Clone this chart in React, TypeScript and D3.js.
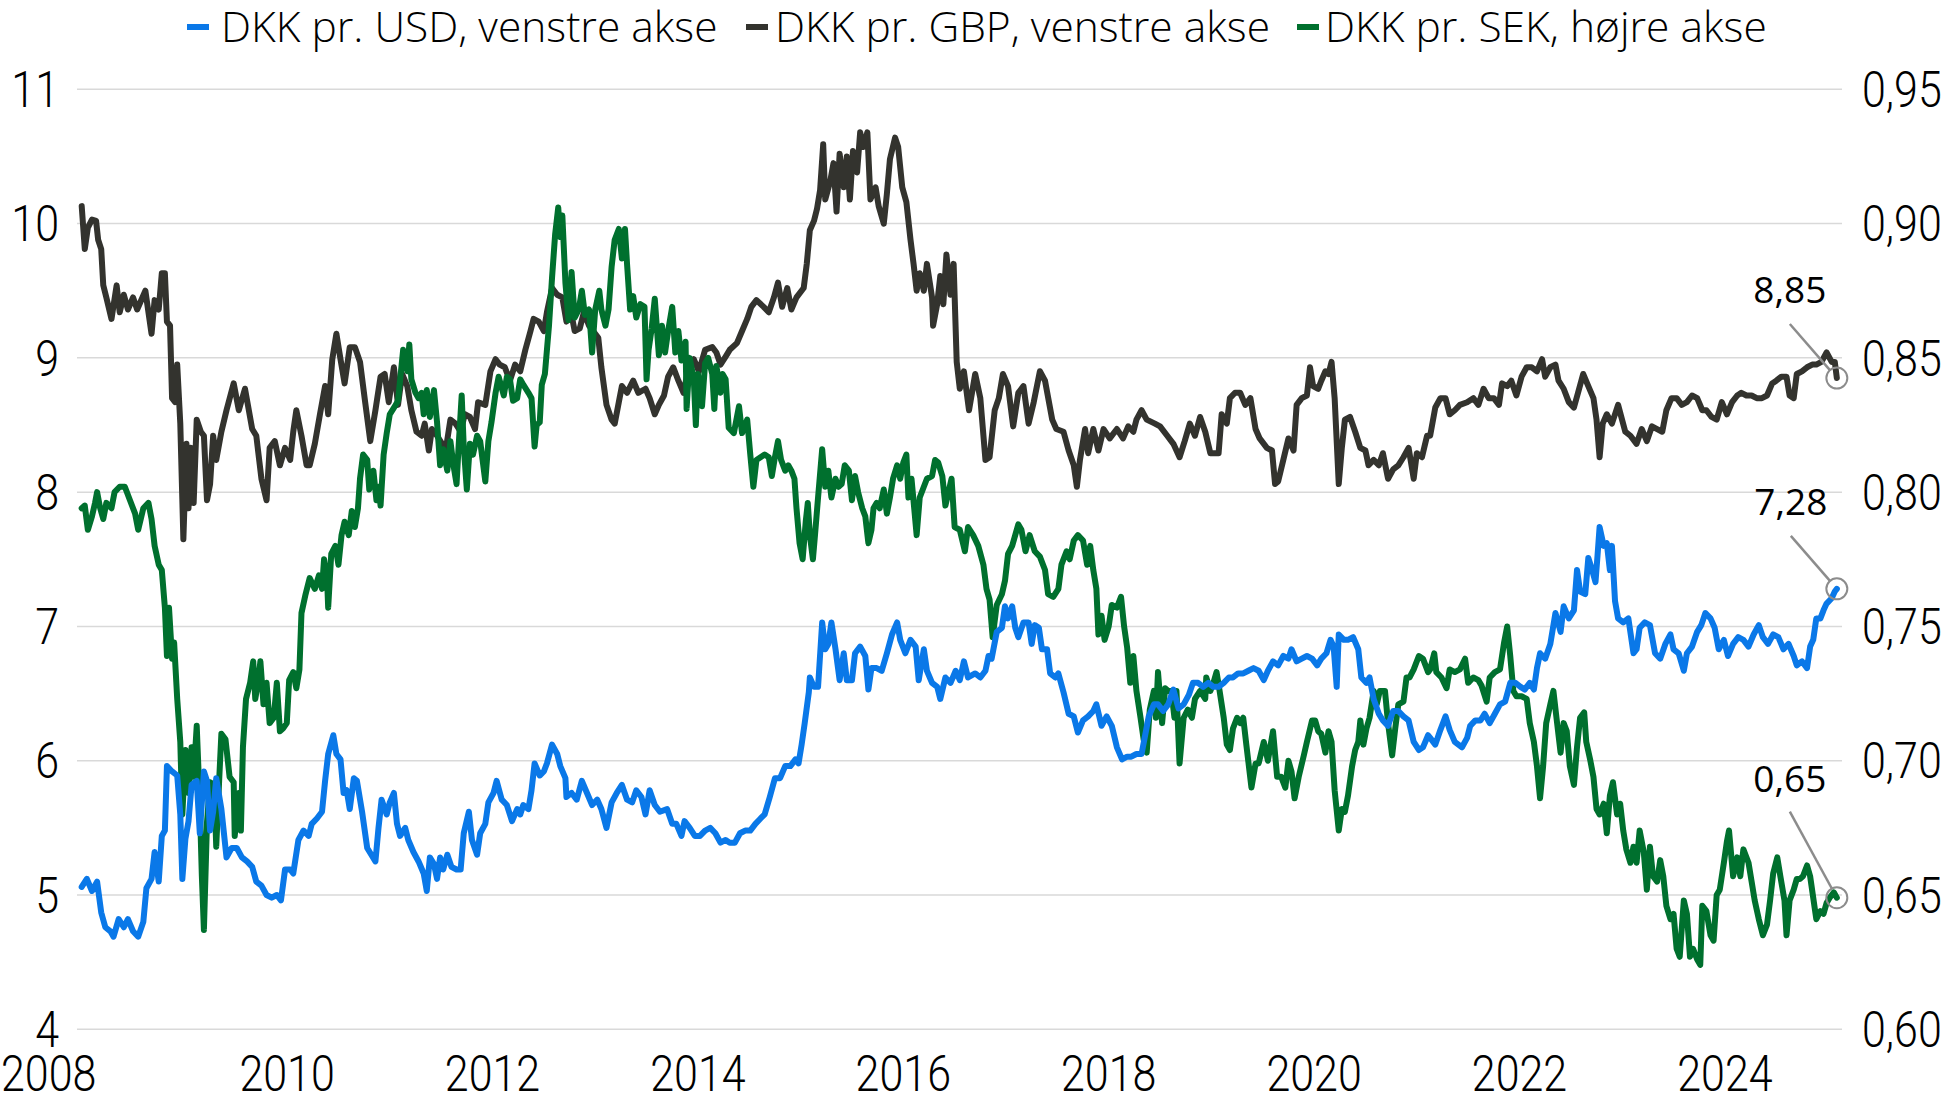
import React from 'react';
import * as d3 from 'd3';

// ---------- DATA ----------
const LEGEND_LABELS = ['DKK pr. USD, venstre akse', 'DKK pr. GBP, venstre akse', 'DKK pr. SEK, højre akse'];
const LEFT_TICKS = [4, 5, 6, 7, 8, 9, 10, 11];
const RIGHT_TICKS = [0.6, 0.65, 0.7, 0.75, 0.8, 0.85, 0.9, 0.95];
const YEAR_TICKS = [2008, 2010, 2012, 2014, 2016, 2018, 2020, 2022, 2024];

// [decimal year, DKK per GBP]
const GBP: [number, number][] = [
  [2008.00,10.13],[2008.03,9.81],[2008.06,9.97],[2008.10,10.03],[2008.14,10.02],[2008.16,9.88],[2008.19,9.81],[2008.21,9.54],[2008.24,9.45],[2008.29,9.29],[2008.34,9.54],[2008.37,9.34],[2008.41,9.47],[2008.45,9.36],[2008.50,9.45],[2008.54,9.36],[2008.62,9.50],[2008.68,9.18],[2008.71,9.43],[2008.75,9.36],[2008.78,9.63],[2008.81,9.63],[2008.83,9.27],[2008.86,9.24],[2008.88,8.70],[2008.91,8.67],[2008.93,8.95],[2008.96,8.51],[2008.99,7.65],[2009.02,8.36],[2009.04,7.88],[2009.06,8.33],[2009.09,7.92],[2009.12,8.54],[2009.16,8.45],[2009.19,8.42],[2009.22,7.94],[2009.25,8.06],[2009.28,8.42],[2009.31,8.24],[2009.36,8.45],[2009.41,8.61],[2009.48,8.81],[2009.53,8.61],[2009.59,8.77],[2009.66,8.47],[2009.70,8.42],[2009.75,8.10],[2009.80,7.94],[2009.83,8.33],[2009.88,8.38],[2009.93,8.20],[2009.98,8.33],
  [2010.03,8.24],[2010.06,8.45],[2010.09,8.61],[2010.14,8.42],[2010.19,8.20],[2010.22,8.20],[2010.27,8.36],[2010.32,8.58],[2010.37,8.79],[2010.40,8.58],[2010.44,8.99],[2010.48,9.18],[2010.52,8.99],[2010.56,8.81],[2010.61,9.08],[2010.66,9.08],[2010.71,8.97],[2010.76,8.67],[2010.81,8.38],[2010.86,8.61],[2010.91,8.86],[2010.95,8.88],[2010.99,8.67],[2011.04,8.93],[2011.08,8.65],[2011.12,8.88],[2011.17,8.79],[2011.21,8.61],[2011.26,8.45],[2011.31,8.42],[2011.34,8.51],[2011.38,8.31],[2011.41,8.47],[2011.46,8.42],[2011.51,8.36],[2011.54,8.29],[2011.59,8.54],[2011.64,8.51],[2011.69,8.45],[2011.73,8.58],[2011.78,8.56],[2011.83,8.47],[2011.86,8.67],[2011.93,8.65],[2011.98,8.90],
  [2012.03,8.99],[2012.07,8.95],[2012.12,8.93],[2012.17,8.83],[2012.22,8.95],[2012.27,8.90],[2012.32,9.06],[2012.37,9.20],[2012.40,9.29],[2012.45,9.27],[2012.50,9.20],[2012.53,9.34],[2012.58,9.52],[2012.63,9.47],[2012.68,9.45],[2012.72,9.27],[2012.76,9.36],[2012.80,9.20],[2012.85,9.22],[2012.89,9.34],[2012.94,9.24],[2012.98,9.20],[2013.03,9.15],[2013.06,8.93],[2013.11,8.65],[2013.16,8.54],[2013.19,8.51],[2013.23,8.67],[2013.26,8.79],[2013.31,8.74],[2013.37,8.83],[2013.42,8.74],[2013.49,8.77],[2013.53,8.70],[2013.58,8.58],[2013.62,8.65],[2013.67,8.72],[2013.71,8.86],[2013.76,8.93],[2013.81,8.83],[2013.86,8.74],[2013.91,8.93],[2013.96,8.99],
  [2014.01,8.90],[2014.07,9.06],[2014.14,9.08],[2014.18,9.04],[2014.22,8.95],[2014.27,9.01],[2014.31,9.06],[2014.38,9.11],[2014.43,9.20],[2014.48,9.29],[2014.52,9.38],[2014.57,9.43],[2014.64,9.38],[2014.69,9.34],[2014.74,9.45],[2014.78,9.56],[2014.82,9.38],[2014.87,9.52],[2014.91,9.36],[2014.96,9.45],[2015.03,9.52],[2015.06,9.70],[2015.09,9.95],[2015.13,10.02],[2015.16,10.11],[2015.19,10.25],[2015.22,10.59],[2015.24,10.18],[2015.29,10.32],[2015.32,10.45],[2015.35,10.09],[2015.38,10.52],[2015.42,10.27],[2015.45,10.50],[2015.48,10.18],[2015.51,10.54],[2015.55,10.38],[2015.58,10.68],[2015.61,10.57],[2015.65,10.68],[2015.68,10.18],[2015.73,10.27],[2015.76,10.13],[2015.81,10.00],[2015.84,10.22],[2015.87,10.48],[2015.92,10.64],[2015.95,10.57],[2015.99,10.27],
  [2016.03,10.16],[2016.07,9.88],[2016.10,9.70],[2016.13,9.50],[2016.16,9.63],[2016.20,9.50],[2016.23,9.70],[2016.28,9.45],[2016.29,9.24],[2016.33,9.40],[2016.36,9.61],[2016.39,9.40],[2016.42,9.77],[2016.46,9.47],[2016.49,9.70],[2016.52,8.97],[2016.55,8.77],[2016.59,8.90],[2016.64,8.61],[2016.70,8.88],[2016.75,8.70],[2016.80,8.24],[2016.84,8.26],[2016.89,8.61],[2016.93,8.70],[2016.97,8.88],[2017.02,8.79],[2017.07,8.49],[2017.12,8.74],[2017.17,8.79],[2017.22,8.51],[2017.27,8.67],[2017.33,8.90],[2017.38,8.83],[2017.45,8.54],[2017.49,8.47],[2017.56,8.45],[2017.61,8.31],[2017.66,8.20],[2017.69,8.04],[2017.72,8.24],[2017.77,8.47],[2017.80,8.29],[2017.85,8.47],[2017.90,8.31],[2017.95,8.47],
  [2018.01,8.40],[2018.08,8.47],[2018.14,8.40],[2018.19,8.49],[2018.24,8.45],[2018.27,8.54],[2018.32,8.61],[2018.37,8.54],[2018.45,8.51],[2018.50,8.49],[2018.57,8.42],[2018.63,8.36],[2018.69,8.26],[2018.74,8.38],[2018.79,8.51],[2018.84,8.42],[2018.89,8.56],[2018.94,8.45],[2018.99,8.29],[2019.07,8.29],[2019.10,8.58],[2019.15,8.51],[2019.18,8.70],[2019.23,8.74],[2019.28,8.74],[2019.33,8.65],[2019.38,8.70],[2019.43,8.47],[2019.47,8.40],[2019.54,8.33],[2019.59,8.31],[2019.62,8.06],[2019.65,8.08],[2019.70,8.24],[2019.75,8.40],[2019.80,8.31],[2019.83,8.65],[2019.88,8.70],[2019.93,8.72],[2019.96,8.93],[2019.99,8.79],
  [2020.04,8.77],[2020.07,8.83],[2020.11,8.90],[2020.14,8.88],[2020.17,8.97],[2020.20,8.70],[2020.24,8.06],[2020.27,8.33],[2020.30,8.54],[2020.35,8.56],[2020.40,8.45],[2020.45,8.33],[2020.50,8.31],[2020.53,8.20],[2020.58,8.24],[2020.63,8.20],[2020.67,8.29],[2020.72,8.10],[2020.77,8.17],[2020.82,8.20],[2020.87,8.26],[2020.92,8.33],[2020.97,8.10],[2021.00,8.29],[2021.05,8.26],[2021.10,8.42],[2021.13,8.42],[2021.18,8.63],[2021.23,8.70],[2021.28,8.70],[2021.32,8.58],[2021.37,8.61],[2021.42,8.65],[2021.49,8.67],[2021.55,8.70],[2021.60,8.65],[2021.65,8.77],[2021.70,8.70],[2021.75,8.70],[2021.80,8.65],[2021.83,8.81],[2021.88,8.79],[2021.92,8.83],[2021.97,8.72],
  [2022.02,8.86],[2022.07,8.93],[2022.12,8.93],[2022.17,8.90],[2022.22,8.99],[2022.25,8.86],[2022.30,8.93],[2022.35,8.95],[2022.38,8.83],[2022.43,8.77],[2022.48,8.67],[2022.53,8.63],[2022.57,8.74],[2022.62,8.88],[2022.67,8.79],[2022.72,8.70],[2022.75,8.54],[2022.78,8.26],[2022.81,8.51],[2022.85,8.58],[2022.90,8.51],[2022.96,8.65],[2023.03,8.45],[2023.08,8.42],[2023.14,8.36],[2023.19,8.47],[2023.24,8.38],[2023.29,8.49],[2023.34,8.47],[2023.39,8.45],[2023.43,8.61],[2023.48,8.70],[2023.53,8.70],[2023.58,8.65],[2023.63,8.67],[2023.68,8.72],[2023.73,8.70],[2023.78,8.61],[2023.82,8.61],[2023.87,8.56],[2023.92,8.54],[2023.97,8.67],
  [2024.02,8.58],[2024.07,8.67],[2024.12,8.72],[2024.16,8.74],[2024.21,8.72],[2024.26,8.72],[2024.31,8.70],[2024.36,8.70],[2024.41,8.72],[2024.46,8.81],[2024.50,8.83],[2024.55,8.86],[2024.60,8.86],[2024.63,8.72],[2024.67,8.70],[2024.70,8.88],[2024.75,8.90],[2024.80,8.93],[2024.85,8.95],[2024.89,8.95],[2024.94,8.97],[2024.99,9.04],[2025.04,8.97],[2025.07,8.97],[2025.09,8.85],
];

// [decimal year, DKK per USD]
const USD: [number, number][] = [
  [2008.00,5.06],[2008.05,5.12],[2008.10,5.03],[2008.15,5.10],[2008.19,4.87],[2008.23,4.76],[2008.28,4.73],[2008.31,4.69],[2008.36,4.82],[2008.41,4.76],[2008.45,4.82],[2008.50,4.73],[2008.55,4.69],[2008.60,4.80],[2008.63,5.05],[2008.68,5.12],[2008.71,5.32],[2008.75,5.10],[2008.78,5.44],[2008.81,5.48],[2008.83,5.96],[2008.88,5.92],[2008.93,5.89],[2008.96,5.60],[2008.98,5.12],[2009.01,5.42],[2009.04,5.55],[2009.07,5.82],[2009.12,5.85],[2009.15,5.46],[2009.19,5.92],[2009.22,5.85],[2009.25,5.48],[2009.28,5.62],[2009.31,5.87],[2009.36,5.64],[2009.41,5.28],[2009.46,5.35],[2009.51,5.35],[2009.56,5.28],[2009.61,5.25],[2009.66,5.21],[2009.70,5.10],[2009.75,5.07],[2009.80,5.00],[2009.85,4.98],[2009.90,5.00],[2009.94,4.96],[2009.98,5.19],
  [2010.03,5.19],[2010.06,5.16],[2010.11,5.41],[2010.16,5.48],[2010.21,5.44],[2010.24,5.53],[2010.29,5.57],[2010.34,5.62],[2010.37,5.85],[2010.40,6.05],[2010.45,6.19],[2010.48,6.05],[2010.52,6.01],[2010.55,5.76],[2010.58,5.78],[2010.61,5.64],[2010.65,5.87],[2010.68,5.85],[2010.73,5.62],[2010.78,5.35],[2010.82,5.30],[2010.86,5.25],[2010.89,5.50],[2010.92,5.71],[2010.97,5.60],[2011.00,5.69],[2011.04,5.76],[2011.07,5.53],[2011.10,5.44],[2011.15,5.50],[2011.18,5.41],[2011.23,5.32],[2011.28,5.25],[2011.33,5.16],[2011.36,5.03],[2011.39,5.28],[2011.43,5.23],[2011.46,5.12],[2011.49,5.28],[2011.52,5.19],[2011.56,5.30],[2011.60,5.21],[2011.65,5.19],[2011.69,5.19],[2011.72,5.46],[2011.77,5.62],[2011.80,5.41],[2011.85,5.30],[2011.88,5.46],[2011.93,5.53],[2011.96,5.69],
  [2012.01,5.76],[2012.04,5.85],[2012.09,5.71],[2012.14,5.67],[2012.19,5.55],[2012.24,5.64],[2012.27,5.60],[2012.30,5.67],[2012.35,5.64],[2012.38,5.78],[2012.41,5.98],[2012.46,5.89],[2012.50,5.92],[2012.53,5.98],[2012.58,6.12],[2012.63,6.05],[2012.66,5.96],[2012.71,5.87],[2012.72,5.73],[2012.77,5.76],[2012.82,5.71],[2012.87,5.85],[2012.92,5.76],[2012.97,5.67],[2013.02,5.71],[2013.06,5.64],[2013.11,5.50],[2013.16,5.69],[2013.21,5.76],[2013.26,5.82],[2013.31,5.71],[2013.36,5.69],[2013.40,5.78],[2013.45,5.73],[2013.49,5.60],[2013.53,5.78],[2013.58,5.67],[2013.63,5.62],[2013.70,5.64],[2013.75,5.53],[2013.79,5.53],[2013.84,5.44],[2013.87,5.55],[2013.92,5.50],[2013.97,5.44],
  [2014.02,5.44],[2014.07,5.48],[2014.12,5.50],[2014.17,5.46],[2014.22,5.39],[2014.27,5.41],[2014.31,5.39],[2014.36,5.39],[2014.41,5.46],[2014.46,5.48],[2014.51,5.48],[2014.56,5.53],[2014.61,5.57],[2014.65,5.60],[2014.70,5.73],[2014.75,5.87],[2014.80,5.87],[2014.85,5.96],[2014.90,5.96],[2014.95,6.01],[2014.98,5.98],[2015.01,6.12],[2015.04,6.28],[2015.08,6.51],[2015.09,6.62],[2015.13,6.55],[2015.17,6.55],[2015.21,7.03],[2015.24,6.83],[2015.27,6.87],[2015.30,7.03],[2015.34,6.83],[2015.38,6.60],[2015.42,6.80],[2015.45,6.60],[2015.50,6.60],[2015.53,6.80],[2015.58,6.85],[2015.63,6.78],[2015.66,6.53],[2015.69,6.69],[2015.74,6.69],[2015.79,6.67],[2015.84,6.80],[2015.89,6.94],[2015.94,7.03],[2015.97,6.90],
  [2016.02,6.80],[2016.07,6.90],[2016.12,6.85],[2016.15,6.60],[2016.20,6.83],[2016.23,6.67],[2016.28,6.58],[2016.33,6.55],[2016.36,6.46],[2016.41,6.62],[2016.46,6.58],[2016.51,6.67],[2016.55,6.60],[2016.59,6.74],[2016.63,6.62],[2016.70,6.65],[2016.75,6.62],[2016.80,6.67],[2016.83,6.78],[2016.86,6.76],[2016.91,6.96],[2016.96,6.99],[2016.99,7.15],[2017.02,7.06],[2017.06,7.15],[2017.09,6.99],[2017.12,6.92],[2017.17,7.03],[2017.22,7.03],[2017.25,6.87],[2017.28,7.01],[2017.32,6.99],[2017.35,6.83],[2017.40,6.83],[2017.43,6.65],[2017.48,6.62],[2017.51,6.65],[2017.56,6.51],[2017.61,6.35],[2017.66,6.33],[2017.70,6.21],[2017.75,6.30],[2017.80,6.33],[2017.85,6.37],[2017.88,6.42],[2017.93,6.26],[2017.98,6.33],
  [2018.03,6.26],[2018.08,6.10],[2018.13,6.01],[2018.18,6.03],[2018.22,6.03],[2018.27,6.05],[2018.32,6.05],[2018.35,6.17],[2018.39,6.33],[2018.44,6.42],[2018.48,6.42],[2018.53,6.37],[2018.58,6.42],[2018.63,6.53],[2018.68,6.39],[2018.73,6.42],[2018.78,6.49],[2018.82,6.58],[2018.87,6.58],[2018.92,6.55],[2018.97,6.58],[2019.02,6.55],[2019.07,6.55],[2019.12,6.58],[2019.17,6.62],[2019.21,6.62],[2019.26,6.65],[2019.31,6.65],[2019.36,6.67],[2019.41,6.69],[2019.46,6.67],[2019.51,6.60],[2019.55,6.67],[2019.60,6.74],[2019.65,6.71],[2019.70,6.78],[2019.75,6.76],[2019.78,6.83],[2019.83,6.74],[2019.88,6.76],[2019.93,6.78],[2019.98,6.76],
  [2020.03,6.71],[2020.07,6.76],[2020.12,6.80],[2020.16,6.90],[2020.19,6.85],[2020.22,6.55],[2020.24,6.94],[2020.29,6.90],[2020.33,6.90],[2020.38,6.92],[2020.43,6.83],[2020.46,6.62],[2020.51,6.58],[2020.54,6.62],[2020.58,6.46],[2020.63,6.35],[2020.67,6.30],[2020.72,6.26],[2020.77,6.37],[2020.82,6.37],[2020.87,6.33],[2020.92,6.30],[2020.97,6.14],[2021.02,6.08],[2021.06,6.10],[2021.11,6.19],[2021.13,6.17],[2021.18,6.12],[2021.23,6.23],[2021.28,6.33],[2021.32,6.23],[2021.37,6.14],[2021.44,6.10],[2021.49,6.17],[2021.52,6.26],[2021.57,6.30],[2021.62,6.30],[2021.66,6.35],[2021.71,6.28],[2021.76,6.35],[2021.81,6.42],[2021.86,6.44],[2021.91,6.58],[2021.96,6.58],
  [2022.01,6.55],[2022.05,6.53],[2022.10,6.58],[2022.14,6.53],[2022.17,6.69],[2022.20,6.80],[2022.25,6.76],[2022.30,6.87],[2022.35,7.10],[2022.40,6.96],[2022.43,7.15],[2022.48,7.06],[2022.53,7.12],[2022.56,7.42],[2022.59,7.26],[2022.64,7.24],[2022.67,7.51],[2022.70,7.44],[2022.74,7.33],[2022.76,7.53],[2022.78,7.74],[2022.82,7.60],[2022.85,7.62],[2022.88,7.42],[2022.90,7.60],[2022.93,7.19],[2022.96,7.06],[2023.01,7.03],[2023.06,7.06],[2023.11,6.80],[2023.14,6.83],[2023.17,6.99],[2023.22,7.03],[2023.27,7.01],[2023.32,6.80],[2023.37,6.76],[2023.42,6.87],[2023.47,6.94],[2023.50,6.83],[2023.55,6.80],[2023.60,6.67],[2023.63,6.80],[2023.68,6.85],[2023.73,6.96],[2023.77,7.01],[2023.81,7.10],[2023.86,7.06],[2023.90,6.99],[2023.94,6.83],[2023.99,6.90],
  [2024.03,6.78],[2024.08,6.87],[2024.13,6.92],[2024.18,6.90],[2024.23,6.85],[2024.28,6.94],[2024.33,7.01],[2024.37,6.92],[2024.42,6.87],[2024.47,6.94],[2024.52,6.92],[2024.57,6.83],[2024.62,6.87],[2024.67,6.78],[2024.70,6.71],[2024.75,6.74],[2024.80,6.69],[2024.83,6.85],[2024.86,6.90],[2024.89,7.06],[2024.93,7.06],[2024.96,7.12],[2024.99,7.17],[2025.04,7.21],[2025.07,7.26],[2025.09,7.28],
];

// [decimal year, DKK per SEK]
const SEK: [number, number][] = [
  [2008.00,0.794],[2008.03,0.795],[2008.06,0.786],[2008.10,0.791],[2008.13,0.796],[2008.15,0.800],[2008.18,0.794],[2008.21,0.790],[2008.24,0.796],[2008.29,0.794],[2008.32,0.800],[2008.37,0.802],[2008.42,0.802],[2008.47,0.797],[2008.52,0.792],[2008.55,0.786],[2008.60,0.794],[2008.65,0.796],[2008.68,0.790],[2008.71,0.780],[2008.75,0.773],[2008.78,0.771],[2008.81,0.757],[2008.83,0.739],[2008.85,0.757],[2008.88,0.738],[2008.90,0.744],[2008.93,0.723],[2008.96,0.707],[2008.98,0.680],[2009.01,0.704],[2009.04,0.688],[2009.07,0.705],[2009.09,0.694],[2009.12,0.713],[2009.15,0.684],[2009.17,0.657],[2009.19,0.637],[2009.22,0.677],[2009.25,0.692],[2009.29,0.691],[2009.31,0.668],[2009.34,0.694],[2009.36,0.710],[2009.40,0.708],[2009.44,0.694],[2009.48,0.692],[2009.49,0.672],[2009.53,0.688],[2009.55,0.674],[2009.57,0.705],[2009.60,0.723],[2009.64,0.729],[2009.67,0.737],[2009.69,0.723],[2009.72,0.730],[2009.74,0.737],[2009.77,0.721],[2009.80,0.729],[2009.83,0.714],[2009.87,0.716],[2009.90,0.729],[2009.93,0.711],[2009.96,0.712],[2009.997,0.714],
  [2010.02,0.730],[2010.06,0.733],[2010.09,0.727],[2010.12,0.734],[2010.14,0.755],[2010.18,0.762],[2010.22,0.768],[2010.27,0.764],[2010.31,0.769],[2010.34,0.764],[2010.36,0.775],[2010.39,0.767],[2010.40,0.757],[2010.43,0.777],[2010.47,0.780],[2010.50,0.773],[2010.53,0.784],[2010.56,0.789],[2010.60,0.784],[2010.63,0.793],[2010.66,0.787],[2010.69,0.794],[2010.71,0.805],[2010.74,0.814],[2010.78,0.812],[2010.80,0.801],[2010.84,0.808],[2010.87,0.797],[2010.89,0.802],[2010.91,0.795],[2010.94,0.814],[2010.97,0.822],[2011.00,0.829],[2011.05,0.832],[2011.08,0.834],[2011.13,0.853],[2011.17,0.845],[2011.19,0.855],[2011.21,0.842],[2011.25,0.837],[2011.28,0.835],[2011.31,0.837],[2011.33,0.829],[2011.36,0.838],[2011.39,0.828],[2011.43,0.838],[2011.46,0.826],[2011.49,0.810],[2011.52,0.816],[2011.56,0.808],[2011.59,0.819],[2011.62,0.810],[2011.65,0.803],[2011.67,0.817],[2011.70,0.836],[2011.72,0.817],[2011.75,0.801],[2011.78,0.818],[2011.81,0.814],[2011.85,0.821],[2011.88,0.819],[2011.93,0.804],[2011.96,0.819],[2011.99,0.826],
  [2012.03,0.837],[2012.06,0.843],[2012.11,0.836],[2012.14,0.843],[2012.17,0.842],[2012.20,0.834],[2012.24,0.835],[2012.27,0.842],[2012.30,0.840],[2012.35,0.837],[2012.38,0.835],[2012.41,0.817],[2012.43,0.825],[2012.46,0.826],[2012.48,0.840],[2012.51,0.844],[2012.55,0.862],[2012.58,0.880],[2012.61,0.896],[2012.64,0.906],[2012.66,0.895],[2012.68,0.903],[2012.71,0.878],[2012.74,0.864],[2012.77,0.882],[2012.80,0.865],[2012.84,0.868],[2012.87,0.875],[2012.90,0.866],[2012.94,0.868],[2012.97,0.852],[2013.00,0.868],[2013.04,0.875],[2013.06,0.868],[2013.10,0.862],[2013.13,0.868],[2013.16,0.884],[2013.19,0.894],[2013.23,0.898],[2013.26,0.887],[2013.29,0.898],[2013.31,0.885],[2013.34,0.868],[2013.37,0.873],[2013.40,0.865],[2013.44,0.870],[2013.48,0.869],[2013.50,0.842],[2013.52,0.853],[2013.55,0.861],[2013.58,0.872],[2013.62,0.851],[2013.65,0.862],[2013.68,0.852],[2013.71,0.860],[2013.75,0.869],[2013.78,0.852],[2013.81,0.860],[2013.84,0.849],[2013.88,0.856],[2013.89,0.831],[2013.92,0.850],[2013.96,0.842],[2013.98,0.825],
  [2014.00,0.844],[2014.04,0.832],[2014.07,0.848],[2014.10,0.850],[2014.14,0.844],[2014.16,0.831],[2014.18,0.847],[2014.22,0.837],[2014.24,0.844],[2014.27,0.842],[2014.30,0.824],[2014.35,0.822],[2014.38,0.828],[2014.40,0.832],[2014.43,0.822],[2014.48,0.827],[2014.51,0.814],[2014.54,0.802],[2014.57,0.812],[2014.61,0.813],[2014.65,0.814],[2014.69,0.813],[2014.72,0.806],[2014.75,0.813],[2014.78,0.819],[2014.81,0.812],[2014.85,0.808],[2014.88,0.810],[2014.91,0.808],[2014.94,0.805],[2014.96,0.794],[2014.99,0.781],[2015.02,0.775],[2015.05,0.789],[2015.07,0.796],[2015.09,0.784],[2015.12,0.775],[2015.14,0.784],[2015.17,0.798],[2015.21,0.816],[2015.24,0.802],[2015.27,0.808],[2015.30,0.798],[2015.34,0.805],[2015.37,0.802],[2015.40,0.803],[2015.43,0.810],[2015.47,0.808],[2015.50,0.797],[2015.53,0.806],[2015.56,0.800],[2015.60,0.794],[2015.63,0.791],[2015.66,0.781],[2015.69,0.786],[2015.71,0.794],[2015.74,0.796],[2015.77,0.794],[2015.81,0.801],[2015.84,0.792],[2015.87,0.798],[2015.90,0.805],[2015.94,0.810],[2015.97,0.805],
  [2016.00,0.811],[2016.03,0.814],[2016.05,0.798],[2016.08,0.805],[2016.13,0.784],[2016.16,0.798],[2016.20,0.802],[2016.23,0.805],[2016.28,0.806],[2016.31,0.812],[2016.34,0.811],[2016.38,0.806],[2016.41,0.795],[2016.44,0.800],[2016.47,0.805],[2016.50,0.787],[2016.55,0.786],[2016.60,0.778],[2016.63,0.787],[2016.68,0.784],[2016.73,0.780],[2016.78,0.773],[2016.81,0.764],[2016.84,0.760],[2016.87,0.746],[2016.91,0.758],[2016.96,0.762],[2016.99,0.767],[2017.02,0.777],[2017.06,0.780],[2017.09,0.784],[2017.12,0.788],[2017.15,0.786],[2017.19,0.778],[2017.23,0.784],[2017.28,0.778],[2017.33,0.776],[2017.38,0.771],[2017.41,0.762],[2017.46,0.761],[2017.51,0.764],[2017.54,0.773],[2017.59,0.778],[2017.62,0.775],[2017.66,0.782],[2017.70,0.784],[2017.75,0.782],[2017.79,0.773],[2017.82,0.780],[2017.85,0.771],[2017.88,0.764],[2017.90,0.747],[2017.93,0.754],[2017.96,0.745],
  [2018.00,0.750],[2018.03,0.758],[2018.08,0.757],[2018.12,0.761],[2018.15,0.750],[2018.18,0.742],[2018.21,0.729],[2018.24,0.739],[2018.27,0.726],[2018.31,0.716],[2018.34,0.708],[2018.37,0.703],[2018.40,0.719],[2018.44,0.726],[2018.46,0.716],[2018.48,0.733],[2018.52,0.714],[2018.55,0.727],[2018.58,0.726],[2018.61,0.726],[2018.64,0.716],[2018.66,0.726],[2018.69,0.699],[2018.73,0.716],[2018.77,0.719],[2018.81,0.716],[2018.84,0.723],[2018.89,0.726],[2018.94,0.723],[2018.95,0.731],[2018.99,0.726],[2019.02,0.729],[2019.05,0.733],[2019.08,0.726],[2019.12,0.716],[2019.15,0.706],[2019.18,0.704],[2019.21,0.712],[2019.25,0.716],[2019.28,0.714],[2019.31,0.716],[2019.34,0.706],[2019.39,0.690],[2019.43,0.699],[2019.46,0.699],[2019.51,0.707],[2019.55,0.700],[2019.60,0.711],[2019.64,0.694],[2019.68,0.694],[2019.72,0.690],[2019.75,0.700],[2019.78,0.696],[2019.81,0.686],[2019.85,0.694],[2019.90,0.702],[2019.93,0.707],[2019.98,0.715],
  [2020.01,0.715],[2020.04,0.711],[2020.07,0.710],[2020.11,0.703],[2020.14,0.711],[2020.17,0.707],[2020.20,0.689],[2020.24,0.674],[2020.27,0.682],[2020.30,0.681],[2020.33,0.687],[2020.37,0.698],[2020.40,0.704],[2020.43,0.707],[2020.45,0.715],[2020.48,0.706],[2020.51,0.712],[2020.54,0.716],[2020.58,0.726],[2020.61,0.721],[2020.64,0.726],[2020.69,0.726],[2020.72,0.714],[2020.76,0.702],[2020.79,0.712],[2020.82,0.721],[2020.87,0.722],[2020.90,0.731],[2020.93,0.731],[2020.97,0.734],[2021.02,0.739],[2021.06,0.738],[2021.11,0.733],[2021.13,0.734],[2021.17,0.740],[2021.19,0.733],[2021.24,0.731],[2021.29,0.727],[2021.32,0.734],[2021.37,0.733],[2021.42,0.734],[2021.47,0.738],[2021.50,0.729],[2021.55,0.731],[2021.60,0.730],[2021.63,0.728],[2021.68,0.722],[2021.71,0.731],[2021.76,0.733],[2021.81,0.734],[2021.85,0.744],[2021.88,0.750],[2021.91,0.739],[2021.94,0.726],[2021.97,0.724],
  [2022.02,0.724],[2022.07,0.723],[2022.10,0.714],[2022.14,0.707],[2022.17,0.698],[2022.20,0.686],[2022.23,0.698],[2022.26,0.714],[2022.30,0.721],[2022.33,0.726],[2022.36,0.716],[2022.40,0.703],[2022.43,0.714],[2022.46,0.711],[2022.49,0.698],[2022.53,0.691],[2022.56,0.705],[2022.59,0.716],[2022.63,0.718],[2022.65,0.707],[2022.69,0.700],[2022.72,0.694],[2022.75,0.682],[2022.78,0.680],[2022.82,0.684],[2022.85,0.673],[2022.88,0.687],[2022.91,0.692],[2022.95,0.680],[2022.98,0.684],[2023.01,0.674],[2023.04,0.667],[2023.08,0.662],[2023.11,0.668],[2023.14,0.662],[2023.17,0.674],[2023.21,0.666],[2023.24,0.652],[2023.27,0.668],[2023.30,0.657],[2023.34,0.655],[2023.37,0.663],[2023.40,0.657],[2023.43,0.646],[2023.47,0.641],[2023.50,0.643],[2023.53,0.630],[2023.56,0.627],[2023.60,0.648],[2023.63,0.643],[2023.66,0.627],[2023.69,0.630],[2023.73,0.626],[2023.76,0.624],[2023.78,0.646],[2023.82,0.644],[2023.86,0.635],[2023.89,0.633],[2023.92,0.650],[2023.95,0.652],[2023.99,0.662],
  [2024.02,0.670],[2024.04,0.674],[2024.08,0.657],[2024.12,0.664],[2024.15,0.657],[2024.18,0.667],[2024.23,0.662],[2024.26,0.655],[2024.29,0.648],[2024.33,0.641],[2024.37,0.635],[2024.41,0.639],[2024.44,0.648],[2024.47,0.658],[2024.51,0.664],[2024.54,0.657],[2024.58,0.648],[2024.60,0.635],[2024.63,0.648],[2024.67,0.652],[2024.70,0.656],[2024.73,0.656],[2024.76,0.657],[2024.80,0.661],[2024.83,0.657],[2024.86,0.649],[2024.89,0.641],[2024.93,0.644],[2024.96,0.643],[2024.99,0.647],[2025.02,0.649],[2025.06,0.651],[2025.09,0.649],
];

// ---------- LAYOUT ----------
const W = 1956;
const H = 1100;
const PLOT_LEFT = 77;
const PLOT_RIGHT = 1842;
const Y_TOP = 89.3;
const Y_BOTTOM = 1029.3;

const COLORS = { usd: '#0a78e8', gbp: '#33332e', sek: '#00702e' };
const GRID = '#d9d9d9';
const ANNO = '#8c8c8c';
const TICK_FONT = "Roboto, 'Open Sans', sans-serif";
const TEXT_FONT = "'Open Sans', 'Noto Sans', sans-serif";
const TICK_SIZE = 50;
const TICK_SX = 0.86;

const da = d3.formatLocale({ decimal: ',', thousands: '.', grouping: [3], currency: ['', ' kr'] });
const fmt2 = da.format('.2f');

function TickText({ x, y, anchor, children }: { x: number; y: number; anchor: string; children: React.ReactNode }) {
  return (
    <g transform={`translate(${x},${y}) scale(${TICK_SX},1)`}>
      <text x={0} y={0} dy="0.355em" textAnchor={anchor as any} fontFamily={TICK_FONT} fontWeight={300} fontSize={TICK_SIZE} fill="#000">
        {children}
      </text>
    </g>
  );
}

export default function App() {
  const x = d3.scaleLinear().domain([2008, 2025]).range([81.7, 81.7 + 17 * 102.7]);
  const yL = d3.scaleLinear().domain([4, 11]).range([Y_BOTTOM, Y_TOP]);
  const yR = d3.scaleLinear().domain([0.6, 0.95]).range([Y_BOTTOM, Y_TOP]);

  const lineL = d3.line<[number, number]>().x((d) => x(d[0])).y((d) => yL(d[1]));
  const lineR = d3.line<[number, number]>().x((d) => x(d[0])).y((d) => yR(d[1]));

  const series = [
    { key: 'gbp', data: GBP, gen: lineL, color: COLORS.gbp },
    { key: 'sek', data: SEK, gen: lineR, color: COLORS.sek },
    { key: 'usd', data: USD, gen: lineL, color: COLORS.usd },
  ];

  const annos = [
    { data: GBP, y: yL, dx: -47, textDy: -75, lineDy: -54 },
    { data: USD, y: yL, dx: -46, textDy: -74, lineDy: -53 },
    { data: SEK, y: yR, dx: -47, textDy: -106, lineDy: -86 },
  ];
  const R = 10.5;

  const legendItems = [
    { label: LEGEND_LABELS[0], color: COLORS.usd, mx: 187, tx: 221 },
    { label: LEGEND_LABELS[1], color: COLORS.gbp, mx: 746, tx: 775 },
    { label: LEGEND_LABELS[2], color: COLORS.sek, mx: 1297, tx: 1325 },
  ];

  return (
    <svg width={W} height={H} style={{ position: 'absolute', left: 0, top: 0, background: '#fff' }}>
      <rect x={0} y={0} width={W} height={H} fill="#fff" />
      {LEFT_TICKS.map((t) => (
        <line key={'g' + t} x1={PLOT_LEFT} x2={PLOT_RIGHT} y1={yL(t)} y2={yL(t)} stroke={GRID} strokeWidth={1.5} />
      ))}
      {LEFT_TICKS.map((t) => (
        <TickText key={'l' + t} x={59} y={yL(t)} anchor="end">{t}</TickText>
      ))}
      {RIGHT_TICKS.map((t) => (
        <TickText key={'r' + t} x={1862} y={yR(t)} anchor="start">{fmt2(t)}</TickText>
      ))}
      {YEAR_TICKS.map((t, i) => (
        <TickText key={'x' + t} x={i === 0 ? 1 : x(t)} y={1073} anchor={i === 0 ? 'start' : 'middle'}>{t}</TickText>
      ))}
      {series.map((s) => (
        <path key={s.key} d={s.gen(s.data) || ''} fill="none" stroke={s.color} strokeWidth={6} strokeLinejoin="round" strokeLinecap="round" />
      ))}
      {annos.map((a, i) => {
        const last = a.data[a.data.length - 1];
        const px = x(last[0]);
        const py = a.y(last[1]);
        const sx = px + a.dx;
        const sy = py + a.lineDy;
        const ang = Math.atan2(py - sy, px - sx);
        const ex = px - R * Math.cos(ang);
        const ey = py - R * Math.sin(ang);
        return (
          <g key={'a' + i}>
            <text x={px + a.dx} y={py + a.textDy} textAnchor="middle" fontFamily={TEXT_FONT} fontSize={37} fill="#000">
              {fmt2(last[1])}
            </text>
            <line x1={sx} y1={sy} x2={ex} y2={ey} stroke={ANNO} strokeWidth={2.5} />
            <circle cx={px} cy={py} r={R} fill="none" stroke={ANNO} strokeWidth={2} />
          </g>
        );
      })}
      {legendItems.map((l) => (
        <g key={l.label}>
          <line x1={l.mx} x2={l.mx + 22} y1={27} y2={27} stroke={l.color} strokeWidth={6} />
          <text x={l.tx} y={42} fontFamily={TEXT_FONT} fontWeight={300} fontSize={42.5} fill="#000">
            {l.label}
          </text>
        </g>
      ))}
    </svg>
  );
}
